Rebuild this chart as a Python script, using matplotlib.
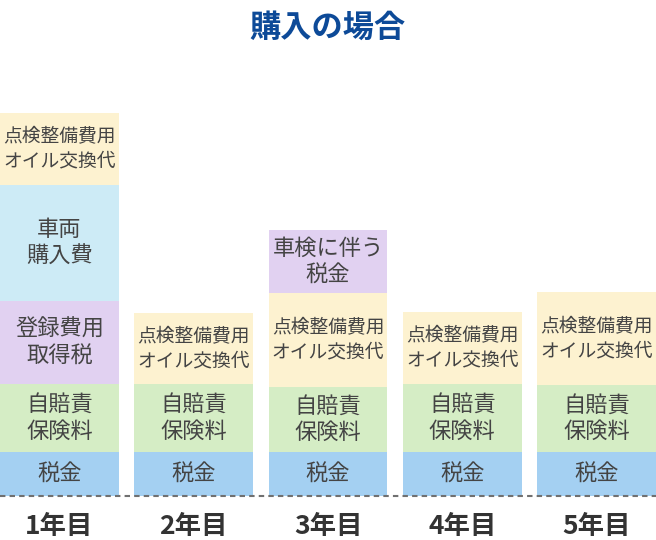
import matplotlib
matplotlib.use('Agg')
import matplotlib.pyplot as plt

# 購入の場合：年ごとの費用（縦に積む）
years = ['1年目', '2年目', '3年目', '4年目', '5年目']
tax = [44, 44, 44, 44, 44]            # 税金
insurance = [68, 68, 65, 68, 67]      # 自賠責保険料
registration = [83, 0, 0, 0, 0]       # 登録費用 取得税
vehicle = [116, 0, 0, 0, 0]           # 車両購入費
maintenance = [72, 71, 94, 72, 93]    # 点検整備費用 オイル交換代
shaken_tax = [0, 0, 63, 0, 0]         # 車検に伴う税金

plt.rcParams['font.family'] = ['Noto Sans CJK JP', 'DejaVu Sans']

fig = plt.figure(figsize=(6.56, 5.40), dpi=100)
ax = fig.add_axes([0, 0, 1, 1])
ax.set_xlim(-0.443, 4.443)
ax.set_ylim(-44, 496)
ax.axis('off')

width = 0.886
text_c = '#444444'

# 積む順番（下から）
layers_1 = [(tax, '#a4d0f2', '税金', 16),
            (insurance, '#d5edc5', '自賠責\n保険料', 16),
            (registration, '#e1d1f1', '登録費用\n取得税', 16),
            (vehicle, '#cdebf6', '車両\n購入費', 16),
            (maintenance, '#fdf2d0', '点検整備費用\nオイル交換代', 13.5),
            (shaken_tax, '#e1d1f1', '車検に伴う\n税金', 16)]

bottom = [0] * len(years)
for vals, col, lab, fs in layers_1:
    ax.bar(range(len(years)), vals, width=width, bottom=bottom,
           color=col, linewidth=0)
    for i, v in enumerate(vals):
        if v > 0:
            ax.text(i, bottom[i] + v / 2, lab, ha='center', va='center',
                    fontsize=fs, color=text_c, linespacing=1.2)
    bottom = [b + v for b, v in zip(bottom, vals)]

# 基準の点線
ax.plot([-0.443, 4.443], [0, 0], color='#707070', lw=1.5,
        dashes=(2.6, 2.0))

for i, y in enumerate(years):
    ax.text(i, -30, y, ha='center', va='center', fontsize=19,
            fontweight='bold', color='#333333')

fig.text(0.5, 1 - 28 / 540, '購入の場合', ha='center', va='center',
         fontsize=22.5, fontweight='bold', color='#0d4a98')

fig.savefig('out.png', dpi=100)
